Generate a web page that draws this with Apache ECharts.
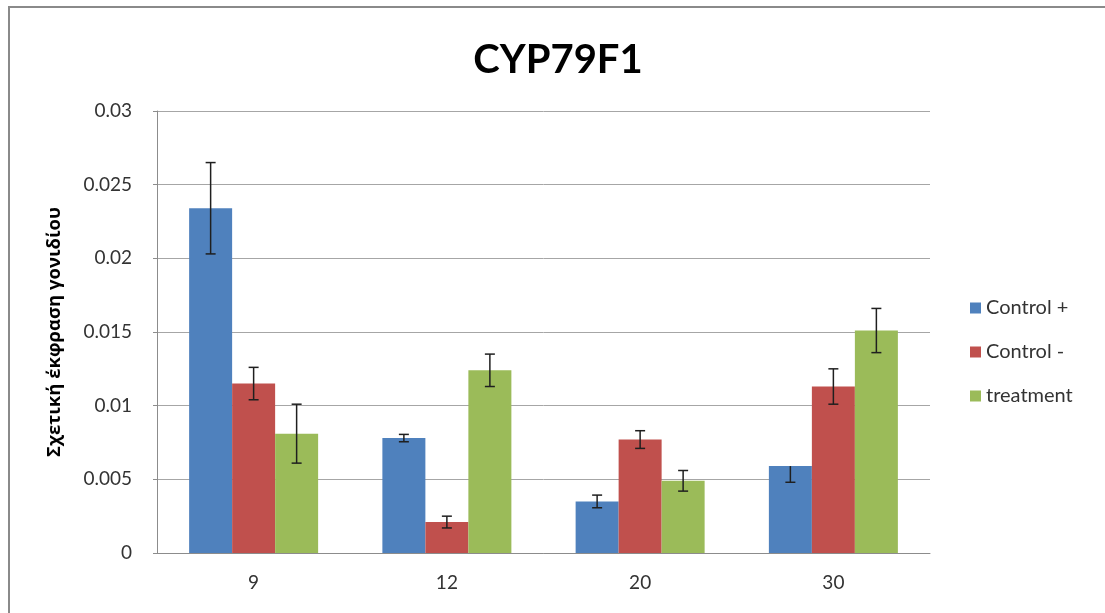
<!DOCTYPE html>
<html>
<head>
<meta charset="utf-8">
<script src="https://cdn.jsdelivr.net/npm/echarts@6/dist/echarts.min.js"></script>
<style>
  html, body { margin: 0; padding: 0; background: #fff; }
  #chart { width: 1105px; height: 613px; }
</style>
</head>
<body>
<div id="chart"></div>
<script>
// values
const categories = ['9', '12', '20', '30'];
const seriesNames = ['Control +', 'Control -', 'treatment'];

const controlPlus = [0.0234, 0.0078, 0.0035, 0.0059];
const controlMinus = [0.0115, 0.0021, 0.0077, 0.0113];
const treatment = [0.0081, 0.0124, 0.0049, 0.0151];

// error bars (up / down)
const controlPlusErrUp = [0.0031, 0.00025, 0.00043, 0];
const controlPlusErrDown = [0.0031, 0.00025, 0.00043, 0.0011];
const controlMinusErrUp = [0.0011, 0.0004, 0.0006, 0.0012];
const controlMinusErrDown = [0.0011, 0.0004, 0.0006, 0.0012];
const treatmentErrUp = [0.002, 0.0011, 0.0007, 0.0015];
const treatmentErrDown = [0.002, 0.0011, 0.0007, 0.0015];

const yTicks = { min: 0, max: 0.03, interval: 0.005 };

const colors = ['#4f81bd', '#c0504d', '#9bbb59'];
const BAR_W = 43;
const FONT = 'Lato, "Open Sans", sans-serif';

const barSeries = (name, data, color) => ({
  name,
  type: 'bar',
  data,
  barWidth: BAR_W,
  barGap: '0%',
  itemStyle: { color },
  z: 2
});

const errorSeries = (name, values, up, down, offset) => ({
  name: name + ' err',
  type: 'custom',
  z: 10,
  silent: true,
  data: values.map((v, i) => [i, v, up[i], down[i]]),
  encode: { x: 0, y: 1 },
  renderItem: (params, api) => {
    const i = api.value(0);
    const v = api.value(1);
    const x = api.coord([i, v])[0] + offset;
    const yHi = api.coord([i, v + api.value(2)])[1];
    const yLo = api.coord([i, v - api.value(3)])[1];
    const cap = 5;
    const style = { stroke: '#1f1f1f', lineWidth: 1.5 };
    const children = [
      { type: 'line', shape: { x1: x, y1: yHi, x2: x, y2: yLo }, style }
    ];
    if (api.value(2) > 0) children.push({ type: 'line', shape: { x1: x - cap, y1: yHi, x2: x + cap, y2: yHi }, style });
    if (api.value(3) > 0) children.push({ type: 'line', shape: { x1: x - cap, y1: yLo, x2: x + cap, y2: yLo }, style });
    return { type: 'group', children };
  }
});

const chart = echarts.init(document.getElementById('chart'), null, { renderer: 'canvas' });

chart.setOption({
  animation: false,
  backgroundColor: '#fff',
  textStyle: { fontFamily: FONT },
  graphic: [
    {
      type: 'rect',
      shape: { x: 9, y: 7, width: 1200, height: 700 },
      style: { fill: null, stroke: '#8a8a8a', lineWidth: 2 },
      silent: true
    }
  ],
  title: {
    text: 'CYP79F1',
    left: 553,
    top: 35,
    textAlign: 'center',
    textStyle: { fontFamily: FONT, fontSize: 40, fontWeight: 'bold', color: '#000' }
  },
  legend: {
    data: seriesNames,
    orient: 'vertical',
    left: 965,
    top: 293,
    itemWidth: 11,
    itemHeight: 11,
    itemGap: 24,
    icon: 'rect',
    textStyle: { fontFamily: FONT, fontSize: 20, color: '#333' }
  },
  grid: { left: 157, top: 111, width: 773, height: 442, containLabel: false },
  xAxis: {
    type: 'category',
    data: categories,
    axisLine: { lineStyle: { color: '#8c8c8c', width: 1 } },
    axisTick: { show: false },
    axisLabel: { fontFamily: FONT, fontSize: 19, color: '#333', margin: 20 },
    splitLine: { show: false }
  },
  yAxis: {
    type: 'value',
    min: yTicks.min,
    max: yTicks.max,
    interval: yTicks.interval,
    name: 'Σχετική έκφραση γονιδίου',
    nameLocation: 'middle',
    nameGap: 93,
    nameTextStyle: { fontFamily: '"Open Sans", "Noto Sans", sans-serif', fontSize: 18.5, fontWeight: 'bold', color: '#000' },
    axisLine: { show: true, lineStyle: { color: '#8c8c8c', width: 1 } },
    axisTick: { show: true, length: 4, lineStyle: { color: '#8c8c8c' } },
    axisLabel: { fontFamily: FONT, fontSize: 19, color: '#333', margin: 25 },
    splitLine: { lineStyle: { color: '#a6a6a6', width: 1 } }
  },
  series: [
    barSeries(seriesNames[0], controlPlus, colors[0]),
    barSeries(seriesNames[1], controlMinus, colors[1]),
    barSeries(seriesNames[2], treatment, colors[2]),
    errorSeries(seriesNames[0], controlPlus, controlPlusErrUp, controlPlusErrDown, -BAR_W),
    errorSeries(seriesNames[1], controlMinus, controlMinusErrUp, controlMinusErrDown, 0),
    errorSeries(seriesNames[2], treatment, treatmentErrUp, treatmentErrDown, BAR_W)
  ]
});
</script>
</body>
</html>
